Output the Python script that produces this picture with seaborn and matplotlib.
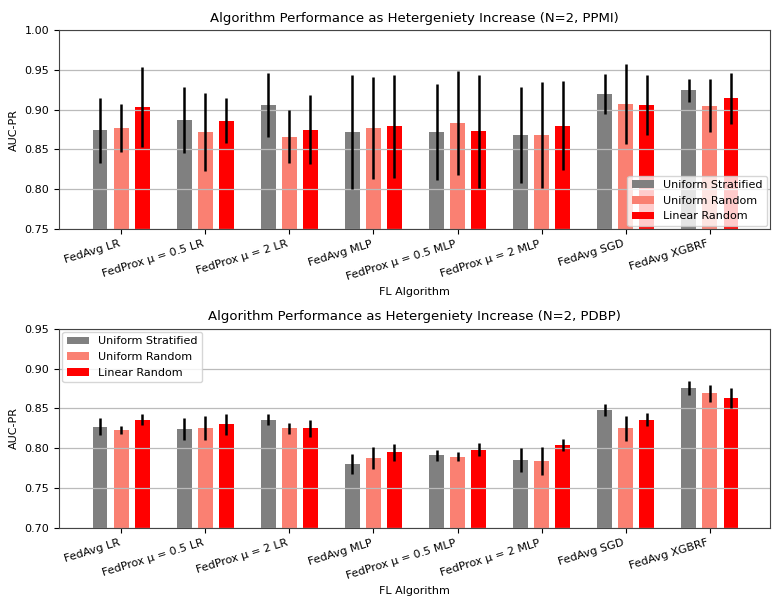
import matplotlib
matplotlib.use("Agg")
import matplotlib.pyplot as plt
import numpy as np
import pandas as pd
import seaborn as sns

algorithms = ["FedAvg LR", "FedProx μ = 0.5 LR", "FedProx μ = 2 LR", "FedAvg MLP",
              "FedProx μ = 0.5 MLP", "FedProx μ = 2 MLP", "FedAvg SGD", "FedAvg XGBRF"]
methods = ["Uniform Stratified", "Uniform Random", "Linear Random"]

# PPMI (mean AUC-PR and error)
ppmi_stratified = [0.874, 0.887, 0.906, 0.872, 0.872, 0.868, 0.920, 0.924]
ppmi_stratified_err = [0.041, 0.041, 0.040, 0.072, 0.060, 0.060, 0.025, 0.015]
ppmi_uniform = [0.877, 0.872, 0.866, 0.877, 0.883, 0.868, 0.907, 0.905]
ppmi_uniform_err = [0.030, 0.049, 0.033, 0.064, 0.065, 0.067, 0.050, 0.033]
ppmi_linear = [0.903, 0.886, 0.875, 0.879, 0.873, 0.880, 0.906, 0.914]
ppmi_linear_err = [0.050, 0.028, 0.043, 0.065, 0.071, 0.056, 0.038, 0.032]

# PDBP
pdbp_stratified = [0.827, 0.824, 0.836, 0.780, 0.791, 0.785, 0.848, 0.876]
pdbp_stratified_err = [0.011, 0.014, 0.007, 0.0125, 0.007, 0.015, 0.008, 0.009]
pdbp_uniform = [0.8225, 0.825, 0.825, 0.7875, 0.7895, 0.784, 0.825, 0.869]
pdbp_uniform_err = [0.005, 0.015, 0.007, 0.014, 0.006, 0.017, 0.016, 0.0105]
pdbp_linear = [0.836, 0.830, 0.825, 0.795, 0.798, 0.804, 0.836, 0.863]
pdbp_linear_err = [0.007, 0.013, 0.0105, 0.0105, 0.008, 0.008, 0.008, 0.012]

palette = {"Uniform Stratified": "grey", "Uniform Random": "salmon", "Linear Random": "red"}

plt.rcParams['font.size'] = 8


def plot_panel(ax, values, errors, title, ylim, legend_loc):
    rows = []
    for method, vals in zip(methods, values):
        for alg, v in zip(algorithms, vals):
            rows.append({"FL Algorithm": alg, "AUC-PR": v, "Method": method})
    df = pd.DataFrame(rows)

    sns.barplot(data=df, x="FL Algorithm", y="AUC-PR", hue="Method",
                order=algorithms, hue_order=methods, palette=palette,
                width=0.75, gap=0.31, saturation=1, errorbar=None,
                linewidth=0, edgecolor='none', ax=ax)

    # error bars on top of the bars seaborn drew
    for container, errs in zip(ax.containers, errors):
        bars = sorted(container, key=lambda b: b.get_x())
        xs = [b.get_x() + b.get_width() / 2 for b in bars]
        ys = [b.get_height() for b in bars]
        ax.errorbar(xs, ys, yerr=errs, fmt='none', ecolor='black',
                    elinewidth=1.8, capsize=0, zorder=3)

    ax.set_xlim(-0.74, 7.72)
    ax.set_ylim(*ylim)
    ax.set_yticks(np.arange(ylim[0], ylim[1] + 0.001, 0.05))
    ax.yaxis.grid(True, color='#bbbbbb', linewidth=0.9)
    ax.set_title(title, fontsize=9.5)
    ax.set_xlabel("FL Algorithm")
    ax.set_ylabel("AUC-PR")
    plt.setp(ax.get_xticklabels(), rotation=17, ha='right')
    for spine in ax.spines.values():
        spine.set_color('#444444')
    sns.move_legend(ax, legend_loc, title=None, fontsize=8, borderaxespad=0.3)


fig, (ax1, ax2) = plt.subplots(2, 1, figsize=(7.82, 6.11), dpi=100)
fig.subplots_adjust(left=0.0755, right=0.985, top=0.951, bottom=0.136, hspace=0.5)

plot_panel(ax1, [ppmi_stratified, ppmi_uniform, ppmi_linear],
           [ppmi_stratified_err, ppmi_uniform_err, ppmi_linear_err],
           "Algorithm Performance as Hetergeniety Increase (N=2, PPMI)",
           (0.75, 1.00), "lower right")
plot_panel(ax2, [pdbp_stratified, pdbp_uniform, pdbp_linear],
           [pdbp_stratified_err, pdbp_uniform_err, pdbp_linear_err],
           "Algorithm Performance as Hetergeniety Increase (N=2, PDBP)",
           (0.70, 0.95), "upper left")

fig.savefig("out.png", dpi=100)
